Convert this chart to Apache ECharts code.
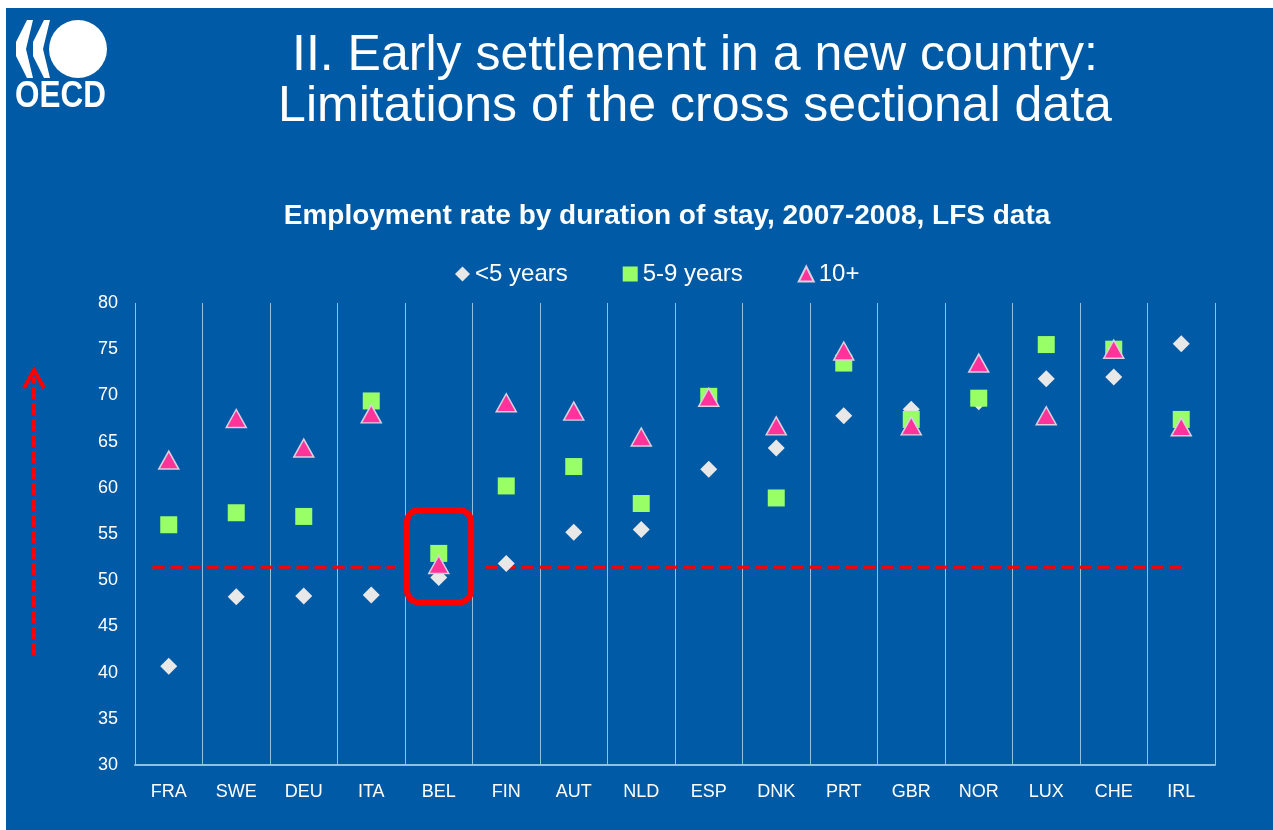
<!DOCTYPE html>
<html>
<head>
<meta charset="utf-8">
<title>Employment rate by duration of stay</title>
<script src="https://cdn.jsdelivr.net/npm/echarts@6/dist/echarts.min.js"></script>
<style>
    html, body { margin: 0; padding: 0; background: #ffffff; }
    #main { position: absolute; left: 0; top: 0; width: 1273px; height: 830px; }
</style>
</head>
<body>
<div id="main"></div>
<script type="text/javascript">
    // 国家（横轴类别）
    var countries = ['FRA', 'SWE', 'DEU', 'ITA', 'BEL', 'FIN', 'AUT', 'NLD', 'ESP', 'DNK', 'PRT', 'GBR', 'NOR', 'LUX', 'CHE', 'IRL'];
    // 就业率，按居留年限
    var under5 = [40.7, 48.2, 48.3, 48.4, 50.3, 51.8, 55.2, 55.5, 62.0, 64.3, 67.8, 68.5, 69.3, 71.8, 72.0, 75.6];
    var y5to9 = [56.0, 57.3, 56.9, 69.4, 52.9, 60.2, 62.3, 58.3, 69.9, 58.9, 73.5, 67.4, 69.7, 75.5, 75.0, 67.4];
    var y10plus = [63.0, 67.5, 64.3, 68.0, 51.7, 69.2, 68.3, 65.5, 69.8, 66.7, 74.8, 66.7, 73.5, 67.8, 75.0, 66.6];
    var yTicks = [30, 35, 40, 45, 50, 55, 60, 65, 70, 75, 80];
    // 红色虚线参考线（位置按类别序号）
    var refLevel = 51.4;
    var refLeft = [[0.26, refLevel], [3.85, refLevel]];
    var refRight = [[5.19, refLevel], [15.5, refLevel]];
    // 比利时的红框
    var boxCorners = [[4.03, 57.6], [4.98, 47.6]];

    var BG = '#005AA5';
    var FONT = '"Liberation Sans", Arial, sans-serif';

    var myChart = echarts.init(document.getElementById('main'));

    function chevron(x) {
        return {
            type: 'polygon',
            shape: { points: [[x + 11, 20], [x + 17, 20], [x + 10, 49], [x + 17, 78], [x + 11, 78], [x, 56], [x, 42]] },
            style: { fill: '#ffffff' }
        };
    }

    function decorations(box) {
        var list = [
            { type: 'rect', z: -10, shape: { x: 6, y: 8, width: 1267, height: 822 }, style: { fill: BG } },
            chevron(16),
            chevron(33),
            { type: 'circle', shape: { cx: 78, cy: 49, r: 29 }, style: { fill: '#ffffff' } },
            {
                type: 'text', x: 15, y: 78, scaleX: 0.85,
                style: { text: 'OECD', fill: '#ffffff', font: 'bold 37px ' + FONT }
            },
            // 左侧上升箭头
            {
                type: 'line', shape: { x1: 34, y1: 655, x2: 34, y2: 378 },
                style: { stroke: '#FF0000', lineWidth: 4, lineDash: [12, 4] }
            },
            {
                type: 'polyline', shape: { points: [[24, 388], [34, 370], [44, 388]] },
                style: { stroke: '#FF0000', lineWidth: 4, fill: null }
            }
        ];
        if (box) list.push(box);
        return list;
    }

    myChart.setOption({
        backgroundColor: 'transparent',
        title: [
            {
                text: 'II. Early settlement in a new country:\nLimitations of the cross sectional data',
                left: 690, top: 26, textAlign: 'center',
                textStyle: { color: '#ffffff', fontSize: 50, fontWeight: 'normal', fontFamily: FONT, lineHeight: 51 }
            },
            {
                text: 'Employment rate by duration of stay, 2007-2008, LFS data',
                left: 662, top: 197, textAlign: 'center',
                textStyle: { color: '#ffffff', fontSize: 28, fontWeight: 'bold', fontFamily: FONT }
            }
        ],
        legend: {
            data: ['<5 years', '5-9 years', '10+'],
            top: 257, left: 450,
            itemWidth: 15, itemHeight: 15, itemGap: 55,
            textStyle: { color: '#ffffff', fontSize: 24, fontFamily: FONT }
        },
        grid: { left: 135, right: 58, top: 303, bottom: 65 },
        xAxis: [
            {
                type: 'category',
                data: countries,
                boundaryGap: true,
                axisLine: { show: true, lineStyle: { color: '#8EC3DD', width: 2 } },
                axisTick: { show: false },
                axisLabel: { color: '#ffffff', fontSize: 18, fontFamily: FONT, margin: 18, interval: 0 },
                splitLine: { show: true, interval: 0, lineStyle: { color: '#8EC3DD', width: 1 } }
            },
            {
                type: 'value', min: 0, max: 16, show: false
            }
        ],
        yAxis: {
            type: 'value',
            min: yTicks[0], max: yTicks[yTicks.length - 1], interval: 5,
            axisLine: { show: false },
            axisTick: { show: false },
            splitLine: { show: false },
            axisLabel: { color: '#ffffff', fontSize: 18, fontFamily: FONT, margin: 17 }
        },
        series: [
            {
                name: '<5 years', type: 'scatter', data: under5,
                symbol: 'diamond', symbolSize: 17,
                itemStyle: { color: '#E8E8E8', opacity: 1 }, z: 3
            },
            {
                name: '5-9 years', type: 'scatter', data: y5to9,
                symbol: 'rect', symbolSize: 17,
                itemStyle: { color: '#99FF66', opacity: 1 }, z: 4
            },
            {
                name: '10+', type: 'scatter', data: y10plus,
                symbol: 'triangle', symbolSize: [20, 18],
                itemStyle: { color: '#FF3399', borderColor: '#D8D0E0', borderWidth: 1.5, opacity: 1 }, z: 5
            },
            {
                name: 'ref1', type: 'line', xAxisIndex: 1, data: refLeft,
                symbol: 'none', silent: true, z: 2,
                lineStyle: { color: '#FF0000', width: 3, type: [12, 6] }
            },
            {
                name: 'ref2', type: 'line', xAxisIndex: 1, data: refRight,
                symbol: 'none', silent: true, z: 2,
                lineStyle: { color: '#FF0000', width: 3, type: [12, 6] }
            }
        ],
        graphic: decorations(null)
    });

    // 红框按数据坐标换算
    var p1 = myChart.convertToPixel({ xAxisIndex: 1, yAxisIndex: 0 }, boxCorners[0]);
    var p2 = myChart.convertToPixel({ xAxisIndex: 1, yAxisIndex: 0 }, boxCorners[1]);
    myChart.setOption({
        graphic: decorations({
            type: 'rect', z: 10,
            shape: { x: p1[0], y: p1[1], width: p2[0] - p1[0], height: p2[1] - p1[1], r: 12 },
            style: { stroke: '#FF0000', lineWidth: 6, fill: null }
        })
    }, { replaceMerge: ['graphic'] });
</script>
</body>
</html>
